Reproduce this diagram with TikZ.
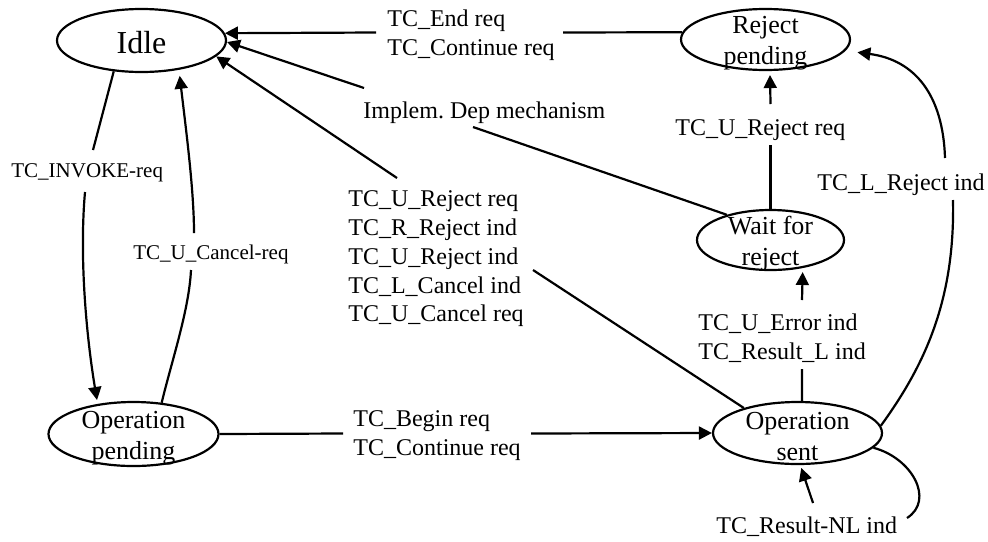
\documentclass[tikz,border=0pt]{standalone}
\usepackage{fontspec}
\setmainfont{Liberation Serif}
\usetikzlibrary{arrows.meta,shapes.geometric}
\frenchspacing
\begin{document}
\begin{tikzpicture}[x=0.5pt,y=-0.5pt,
  state/.style={ellipse,draw,line width=1.1pt,inner sep=0pt},
  stxt/.style={font=\fontsize{13}{15.5}\selectfont,align=center,inner sep=0pt},
  edge/.style={line width=1.1pt},
  arr/.style={edge,-{Triangle[length=6.5pt,width=6.5pt]}},
  lbl/.style={font=\fontsize{12}{14.4}\selectfont,align=left,inner sep=0pt},
  slbl/.style={font=\fontsize{10.5}{12.6}\selectfont,inner sep=0pt}]
\path[use as bounding box,fill=white] (0,0) rectangle (988,541);

% states
\node[state,minimum width=84.5pt,minimum height=31.5pt,
  label={[font=\fontsize{16}{19}\selectfont,inner sep=0pt,yshift=-1pt]center:Idle}] (idle) at (141.5,40.5) {};
\node[state,minimum width=84.5pt,minimum height=30.5pt,
  label={[stxt,yshift=-2pt]center:Reject\\pending}] (rejp) at (765.5,39.5) {};
\node[state,minimum width=73.5pt,minimum height=30pt,
  label={[stxt,yshift=-2pt]center:Wait for\\reject}] (wait) at (770.5,240) {};
\node[state,minimum width=85pt,minimum height=32pt,
  label={[stxt,yshift=-2pt]center:Operation\\pending}] (oppend) at (133.5,434) {};
\node[state,minimum width=84.5pt,minimum height=31pt,
  label={[stxt,yshift=-2pt]center:Operation\\sent}] (opsent) at (797.5,433) {};

% E1 Reject pending -> Idle
\coordinate (c1a) at (563,32.5);
\coordinate (c1b) at (376,32.5);
\draw[edge] (rejp.175) -- (c1a);
\draw[arr] (c1b) -- (idle.5);

% E2 Wait for reject -> Idle
\coordinate (c2a) at (473,127);
\coordinate (c2b) at (364,88);
\draw[edge] (wait.150) -- (c2a);
\draw[arr] (c2b) -- (idle.-1);

% E3 Operation sent -> Idle
\coordinate (c3a) at (533,270);
\coordinate (c3b) at (397,178);
\draw[edge] (opsent.155) -- (c3a);
\draw[arr] (c3b) -- (idle.-12);

% E4 Idle -> Operation pending
\coordinate (c4a) at (93,150);
\coordinate (c4b) at (85,192);
\draw[edge] (idle.-132) -- (c4a);
\draw[arr,shorten >=2pt] (c4b) .. controls (79,260) and (87,340) .. (oppend.140);

% E5 Operation pending -> Idle
\coordinate (c5a) at (191,270);
\coordinate (c5b) at (194,233);
\draw[edge] (oppend.48) .. controls (172,360) and (189,310) .. (c5a);
\draw[arr,shorten >=3pt] (c5b) .. controls (194,190) and (186,130) .. (idle.-38);

% E6 Operation pending -> Operation sent
\coordinate (c6a) at (343,433.5);
\coordinate (c6b) at (531,433.5);
\draw[edge] (oppend.east) -- (c6a);
\draw[arr] (c6b) -- (opsent.west);

% E7 Operation sent -> Wait for reject
\coordinate (c7a) at (802,369);
\coordinate (c7b) at (802,300);
\draw[edge] (opsent.82) -- (c7a);
\draw[arr,shorten >=2pt] (c7b) -- (wait.-41);

% E8 Wait for reject -> Reject pending
\coordinate (c8a) at (770.5,145);
\coordinate (c8b) at (770.5,104);
\draw[edge] (wait.north) -- (c8a);
\draw[arr,shorten >=2pt] (c8b) -- (rejp.-82);

% E9 Operation sent -> Reject pending
\coordinate (c9a) at (953,200);
\coordinate (c9b) at (945,158);
\draw[edge] (opsent.5) .. controls (925,365) and (955,300) .. (c9a);
\draw[arr,shorten >=6pt] (c9b) .. controls (943,95) and (915,60) .. (rejp.-8);

% E10 self loop on Operation sent
\coordinate (c10a) at (907,518);
\coordinate (c10b) at (813,503);
\draw[edge] (opsent.-11) .. controls (912,458) and (935,500) .. (c10a);
\draw[arr,shorten >=1.5pt] (c10b) -- (opsent.-85);

% labels
\node[lbl,anchor=north west] (l1) at (387,9.5) {TC\_End req\\TC\_Continue req};
\node[lbl,anchor=base west] (l2) at (363,118) {Implem. Dep mechanism};
\node[lbl,anchor=north west] (l3) at (348,190.5) {TC\_U\_Reject req\\TC\_R\_Reject ind\\TC\_U\_Reject ind\\TC\_L\_Cancel ind\\TC\_U\_Cancel req};
\node[slbl,anchor=base west] (l4) at (11,177) {TC\_INVOKE-req};
\node[slbl,anchor=base west] (l5) at (133,259) {TC\_U\_Cancel-req};
\node[lbl,anchor=north west] (l6) at (353,410.5) {TC\_Begin req\\TC\_Continue req};
\node[lbl,anchor=north west] (l7) at (698,313.5) {TC\_U\_Error ind\\TC\_Result\_L ind};
\node[lbl,anchor=base west] (l8) at (675,135) {TC\_U\_Reject req};
\node[lbl,anchor=base west] (l9) at (817,190) {TC\_L\_Reject ind};
\node[lbl,anchor=base west] (l10) at (716,533) {TC\_Result-NL ind};
\end{tikzpicture}
\end{document}
